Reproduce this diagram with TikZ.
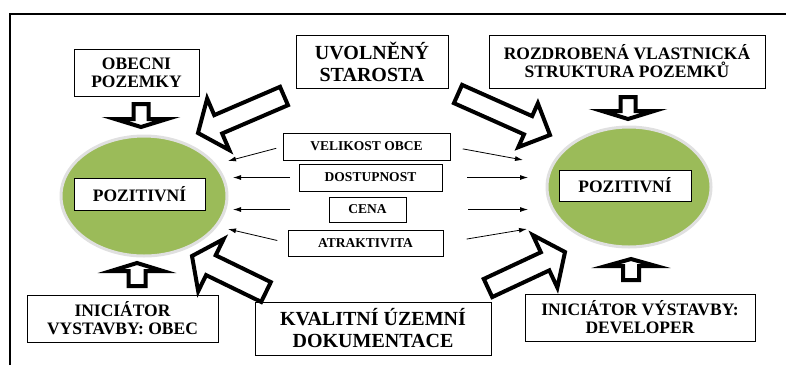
\documentclass[tikz,border=0pt]{standalone}
\usepackage{fontspec}
\setmainfont{Liberation Serif}
\usetikzlibrary{calc,shapes.geometric,arrows.meta}
\definecolor{leafgreen}{RGB}{155,187,89}
\newcommand{\hollowarrow}[5]{%
  \path ($(#2)!#5!(#1)$) coordinate (hb);
  \draw[hollow] ($(#1)!#3!90:(#2)$) -- ($(hb)!#3!90:(#2)$) -- ($(hb)!#4!90:(#2)$) -- (#2)
    -- ($(hb)!#4!-90:(#2)$) -- ($(hb)!#3!-90:(#2)$) -- ($(#1)!#3!-90:(#2)$) -- cycle;}
\begin{document}
\begin{tikzpicture}[x=1pt,y=-1pt,
  box/.style={draw=black,line width=1,fill=white,inner sep=0pt,outer sep=0pt,align=center},
  bigtxt/.style={font=\bfseries\fontsize{20}{22}\selectfont},
  midtxt/.style={font=\bfseries\fontsize{17.5}{18}\selectfont},
  smalltxt/.style={font=\bfseries\fontsize{13.5}{15}\selectfont},
  lobe/.style={ellipse,draw=black!12,line width=3,fill=leafgreen,inner sep=0pt},
  hollow/.style={draw=black,line width=4,fill=white,line join=miter},
  feeder/.style={line width=0.8,-{Latex[length=8pt,width=5pt]}}]
  \useasboundingbox (0,0) rectangle (786,365);
  \draw [black,line width=2] (10,365) -- (10,14) -- (786,14);
  \node[box,midtxt,minimum width=125,minimum height=47] (pozemky) at (136.5,72.5) {OBECNI\\POZEMKY};
  \node[box,bigtxt,minimum width=152,minimum height=53] (starosta) at (372,61.5) {UVOLNĚNÝ\\STAROSTA};
  \node[box,midtxt,minimum width=276,minimum height=53] (struktura) at (627,61.5) {ROZDROBENÁ VLASTNICKÁ\\STRUKTURA POZEMKŮ};
  \node[lobe,minimum width=166,minimum height=120] (lobel) at (144,196) {};
  \node[lobe,minimum width=164,minimum height=120] (lober) at (629,187) {};
  \node[box,midtxt,minimum width=131,minimum height=32] (pozl) at (139.5,194) {POZITIVNÍ};
  \node[box,midtxt,minimum width=132,minimum height=31] (pozr) at (625,185.5) {POZITIVNÍ};
  \node[box,smalltxt,minimum width=167,minimum height=27] (velikost) at (366.5,146.5) {VELIKOST OBCE};
  \node[box,smalltxt,minimum width=143,minimum height=27] (dostupnost) at (370.5,177.5) {DOSTUPNOST};
  \node[box,smalltxt,minimum width=77,minimum height=25] (cena) at (367.5,209.5) {CENA};
  \node[box,smalltxt,minimum width=155,minimum height=26] (atraktivita) at (365.5,243) {ATRAKTIVITA};
  \node[box,midtxt,minimum width=191,minimum height=47] (obec) at (122.5,318.5) {INICIÁTOR\\VYSTAVBY: OBEC};
  \node[box,bigtxt,minimum width=236,minimum height=53] (dokumentace) at (373,328.5) {KVALITNÍ ÚZEMNÍ\\DOKUMENTACE};
  \node[box,midtxt,minimum width=230,minimum height=47] (developer) at (640,317.5) {INICIÁTOR VÝSTAVBY:\\DEVELOPER};
  \coordinate (lt1) at (228,161);
  \coordinate (lt2) at (233,177.5);
  \coordinate (lt3) at (233,209.5);
  \coordinate (lt4) at (228,229);
  \coordinate (rt1) at (523,160);
  \coordinate (rt2) at (528,177.5);
  \coordinate (rt3) at (528,209.5);
  \coordinate (rt4) at (527,229);
  \draw [feeder,shorten <=7pt] (velikost.west) -- (lt1);
  \draw [feeder,shorten <=9pt] (dostupnost.west) -- (lt2);
  \draw [feeder,shorten <=39pt] (cena.west) -- (lt3);
  \draw [feeder,shorten <=11pt] (atraktivita.west) -- (lt4);
  \draw [feeder,shorten <=13pt] (velikost.east) -- (rt1);
  \draw [feeder,shorten <=25pt] (dostupnost.east) -- (rt2);
  \draw [feeder,shorten <=62pt] (cena.east) -- (rt3);
  \draw [feeder,shorten <=24pt] (atraktivita.east) -- (rt4);
  \coordinate (s1) at (284,96);
  \coordinate (e1) at (198,133);
  \coordinate (s2) at (458,94);
  \coordinate (e2) at (550,135);
  \coordinate (s3) at (266,292);
  \coordinate (e3) at (192,256);
  \coordinate (s4) at (488,288);
  \coordinate (e4) at (565,252);
  \hollowarrow{s1}{e1}{10pt}{28pt}{22pt}
  \hollowarrow{s2}{e2}{10pt}{24pt}{24pt}
  \hollowarrow{s3}{e3}{11pt}{29pt}{21pt}
  \hollowarrow{s4}{e4}{10pt}{29pt}{22pt}
  \coordinate (s5) at (141,104);
  \coordinate (e5) at (141,127);
  \coordinate (s6) at (628,97);
  \coordinate (e6) at (628,119);
  \coordinate (s7) at (137,286);
  \coordinate (e7) at (137,263);
  \coordinate (s8) at (631,280);
  \coordinate (e8) at (631,259);
  \hollowarrow{s5}{e5}{7.5pt}{26pt}{8pt}
  \hollowarrow{s6}{e6}{7.5pt}{26pt}{8pt}
  \hollowarrow{s7}{e7}{8.5pt}{26pt}{8pt}
  \hollowarrow{s8}{e8}{8pt}{25pt}{7pt}
\end{tikzpicture}
\end{document}
